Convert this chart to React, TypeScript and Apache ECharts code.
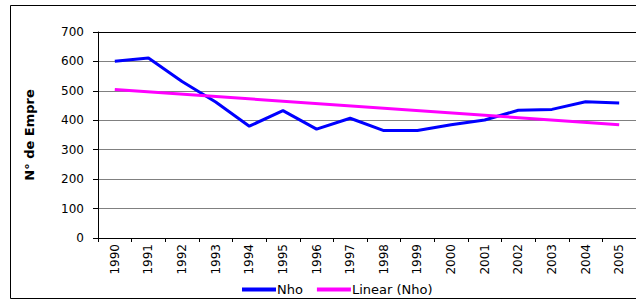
import React, { useEffect, useRef } from "react";
import * as echarts from "echarts";

const years = ["1990","1991","1992","1993","1994","1995","1996","1997","1998","1999","2000","2001","2002","2003","2004","2005"];
const nho = [601, 612, 532, 462, 380, 433, 370, 407, 365, 365, 385, 401, 434, 437, 463, 459];
const trend = [505, null, null, null, null, null, null, null, null, null, null, null, null, null, null, 385];
const yTicks = { min: 0, max: 700, interval: 100 };

const FONT = "DejaVu Sans";

export default function App() {
  const ref = useRef<HTMLDivElement>(null);
  useEffect(() => {
    const chart = echarts.init(ref.current!, null, { renderer: "svg" });
    chart.setOption({
      animation: false,
      backgroundColor: "#fff",
      textStyle: { fontFamily: FONT, color: "#000" },
      graphic: [
        {
          type: "rect",
          shape: { x: 10.5, y: 5.5, width: 700, height: 293 },
          style: { fill: "none", stroke: "#000", lineWidth: 1 },
          silent: true,
        },
      ],
      grid: { left: 98, top: 32, right: 0, bottom: 63, containLabel: false },
      legend: {
        left: 237,
        top: 278,
        icon: "rect",
        itemWidth: 34,
        itemHeight: 4,
        itemGap: 14,
        textStyle: { fontFamily: FONT, fontSize: 13, color: "#000", padding: [0, 0, 0, -4] },
        data: ["Nho", "Linear (Nho)"],
      },
      xAxis: [
        {
          type: "category",
          data: years,
          boundaryGap: true,
          axisLine: { show: true, lineStyle: { color: "#000", width: 1 } },
          axisTick: { show: true, interval: 0, length: 4, lineStyle: { color: "#000" } },
          axisLabel: { interval: 0, rotate: 90, margin: 6, fontSize: 12, fontFamily: FONT, color: "#000" },
          splitLine: { show: false },
        },
        {
          type: "category",
          data: years,
          position: "top",
          axisLine: { show: true, lineStyle: { color: "#000", width: 1 } },
          axisTick: { show: false },
          axisLabel: { show: false },
          splitLine: { show: false },
        },
      ],
      yAxis: {
        type: "value",
        min: yTicks.min,
        max: yTicks.max,
        interval: yTicks.interval,
        name: "N° de Empre",
        nameLocation: "middle",
        nameGap: 62,
        nameRotate: 90,
        nameTextStyle: { fontFamily: FONT, fontSize: 13, fontWeight: "bold", color: "#000" },
        axisLine: { show: true, lineStyle: { color: "#000", width: 1 } },
        axisTick: { show: true, length: 5, lineStyle: { color: "#000" } },
        axisLabel: { margin: 14, fontSize: 12, fontFamily: FONT, color: "#000" },
        splitLine: { show: true, lineStyle: { color: "#808080", width: 1 } },
      },
      series: [
        {
          name: "Nho",
          type: "line",
          data: nho,
          showSymbol: false,
          symbol: "none",
          lineStyle: { color: "#0000ff", width: 3 },
          itemStyle: { color: "#0000ff" },
          z: 3,
        },
        {
          name: "Linear (Nho)",
          type: "line",
          data: trend,
          connectNulls: true,
          showSymbol: false,
          symbol: "none",
          lineStyle: { color: "#ff00ff", width: 3 },
          itemStyle: { color: "#ff00ff" },
          z: 4,
        },
      ],
    });
    return () => chart.dispose();
  }, []);
  return (
    <div
      ref={ref}
      style={{ position: "fixed", left: 0, top: 0, width: 636, height: 301, background: "#fff" }}
    />
  );
}
